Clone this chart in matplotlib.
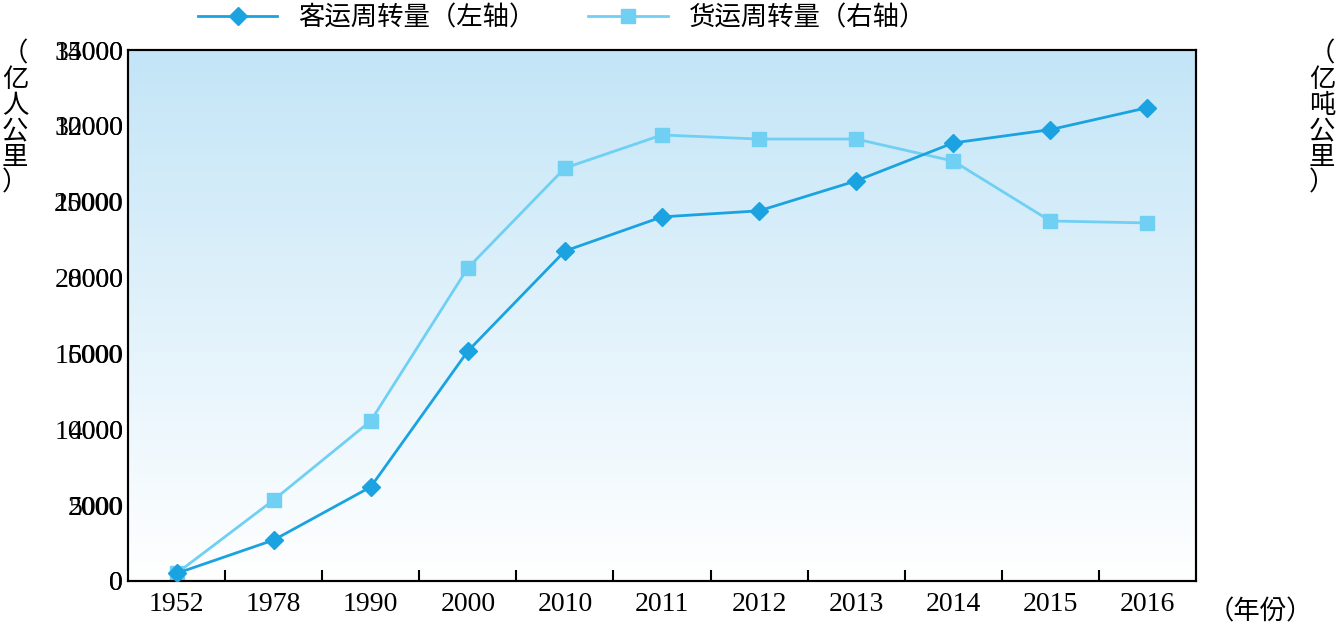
import matplotlib.pyplot as plt
import numpy as np
from matplotlib import font_manager
from matplotlib.colors import LinearSegmentedColormap

years = ['1952', '1978', '1990', '2000', '2010', '2011', '2012', '2013', '2014', '2015', '2016']
passenger = [200, 1080, 2480, 6060, 8700, 9600, 9760, 10550, 11550, 11900, 12480]
freight = [500, 5340, 10550, 20630, 27220, 29400, 29130, 29130, 27680, 23730, 23600]

# find a CJK font file directly, names can vary
cjk_files = [f for f in font_manager.findSystemFonts() if 'CJK' in f and 'Sans' in f]
cjk_files.sort(key=lambda f: ('SC' not in f, 'Regular' not in f, f))
if cjk_files:
    cjk = font_manager.FontProperties(fname=cjk_files[0], size=19)
else:
    cjk = font_manager.FontProperties(family='Noto Sans CJK SC', size=19)
num = 'Liberation Serif'
dark = '#1aa3e0'
light = '#6fd0f4'

fig = plt.figure(figsize=(13.38, 6.34), dpi=100)
ax2 = fig.add_axes([128/1338, 1-581/634, 1068/1338, 531/634])
ax2.yaxis.tick_right()
ax = ax2.twinx()
ax.yaxis.tick_left()

# gradient background on the bottom axes
grad = np.linspace(0, 1, 256).reshape(-1, 1)
cmap = LinearSegmentedColormap.from_list('bg', ['#ffffff', '#c3e5f7'])
ax2.imshow(grad, aspect='auto', cmap=cmap, origin='lower',
           extent=[-0.5, 10.5, 0, 35000], zorder=0)

x = np.arange(len(years))
l2, = ax2.plot(x, freight, color=light, lw=2, marker='s', ms=10, zorder=2,
               label='货运周转量（右轴）')
l1, = ax.plot(x, passenger, color=dark, lw=2, marker='D', ms=9, zorder=3,
              label='客运周转量（左轴）')
ax2.set_xlim(-0.5, 10.5)
ax.set_xlim(-0.5, 10.5)
ax.set_ylim(0, 14000)
ax2.set_ylim(0, 35000)
ax.set_yticks(range(0, 14001, 2000))
ax2.set_yticks(range(0, 35001, 5000))
ax2.set_xticks(x)
ax2.set_xticklabels(years)
ax2.set_xticks(np.arange(0.5, 10, 1), minor=True)
ax2.tick_params(axis='x', which='major', length=0, pad=8)
ax2.tick_params(axis='x', which='minor', direction='in', length=8, width=1.5)
ax.tick_params(axis='y', length=0)
ax2.tick_params(axis='y', length=0)
for a in (ax, ax2):
    for s in a.spines.values():
        s.set_linewidth(1.5)
    for lab in a.get_xticklabels() + a.get_yticklabels():
        lab.set_fontfamily(num)
        lab.set_fontsize(20)

fig.text(15/1338, 1-40/634, '（\n亿\n人\n公\n里\n）', fontproperties=cjk,
         va='top', ha='center', linespacing=0.95)
fig.text(1322/1338, 1-40/634, '（\n亿\n吨\n公\n里\n）', fontproperties=cjk,
         va='top', ha='center', linespacing=0.95)
fig.text(1208/1338, 1-612/634, '（年份）', fontproperties=cjk,
         va='center', ha='left')

fig.legend(handles=[l1, l2], loc='center', bbox_to_anchor=(0.42, 1-18/634),
           ncol=2, frameon=False, prop=cjk, handlelength=3, columnspacing=2)

fig.savefig('out.png', dpi=100)
